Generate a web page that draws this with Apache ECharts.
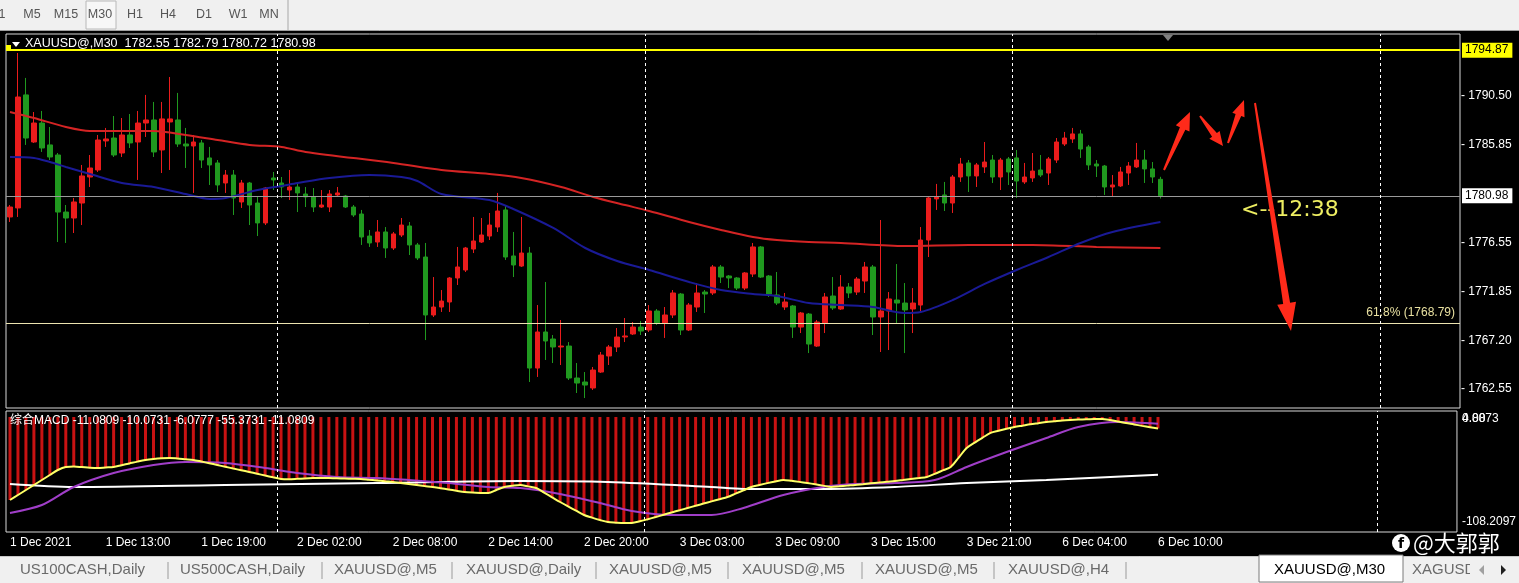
<!DOCTYPE html>
<html><head><meta charset="utf-8">
<script src="https://cdn.jsdelivr.net/npm/echarts@6/dist/echarts.min.js"></script>
<style>html,body{margin:0;padding:0;background:#000;overflow:hidden}#c{width:1519px;height:583px}</style>
</head><body><div id="c"></div>
<script>
// ---- data ----
const tickLabels = ['1 Dec 2021','1 Dec 13:00','1 Dec 19:00','2 Dec 02:00','2 Dec 08:00','2 Dec 14:00','2 Dec 20:00','3 Dec 03:00','3 Dec 09:00','3 Dec 15:00','3 Dec 21:00','6 Dec 04:00','6 Dec 10:00'];
const tickEvery = 12;
const totalSlots = 182;
const opens = [1778.96,1779.82,1790.60,1786.11,1787.92,1785.83,1784.87,1779.43,1778.86,1780.29,
1782.77,1783.44,1786.21,1786.49,1785.06,1786.78,1786.11,1787.92,1788.21,1785.35,
1788.02,1788.21,1785.92,1785.73,1786.02,1784.59,1784.11,1782.20,1782.96,1780.39,
1782.20,1780.29,1778.39,1782.68,1782.20,1781.53,1781.82,1781.15,1780.87,1779.91,
1779.91,1781.06,1780.96,1779.91,1779.24,1777.14,1776.57,1777.53,1776.00,1777.24,
1778.10,1776.29,1775.14,1769.61,1770.37,1770.85,1773.14,1773.90,1775.90,1776.57,
1777.14,1778.00,1779.63,1775.24,1774.28,1775.52,1764.55,1767.99,1767.32,1766.56,
1766.65,1763.60,1763.22,1762.65,1764.17,1765.70,1766.56,1767.51,1767.80,1768.46,
1768.18,1769.99,1768.85,1769.61,1771.61,1768.18,1770.37,1771.80,1771.71,1774.19,
1773.33,1773.14,1772.18,1773.52,1776.10,1773.33,1771.52,1770.37,1770.47,1768.46,
1769.70,1766.65,1768.85,1771.42,1770.18,1772.28,1771.80,1772.85,1774.19,1769.42,
1769.99,1771.04,1770.75,1770.18,1770.56,1776.76,1780.68,1781.06,1780.29,1782.77,
1784.11,1782.87,1783.73,1784.39,1782.77,1784.49,1784.59,1782.30,1782.68,1783.44,
1783.15,1784.39,1785.92,1786.40,1786.88,1785.64,1784.01,1783.82,1781.82,1781.92,
1783.15,1783.73,1784.39,1783.54,1782.55];
const closes = [1779.91,1790.40,1786.49,1787.92,1785.54,1784.68,1779.43,1778.86,1780.39,1782.87,
1783.63,1786.30,1786.40,1784.87,1786.78,1786.02,1787.92,1788.21,1785.16,1788.31,
1788.31,1785.92,1785.73,1786.11,1784.39,1783.92,1782.01,1782.96,1780.77,1782.20,
1780.10,1778.39,1781.72,1782.49,1781.82,1781.82,1781.25,1780.87,1779.91,1780.10,
1781.15,1781.25,1779.91,1779.15,1777.05,1776.48,1777.53,1776.00,1777.34,1778.19,
1776.29,1775.05,1769.61,1770.37,1770.94,1773.14,1774.19,1776.00,1776.67,1777.24,
1778.19,1779.53,1775.14,1774.38,1775.52,1764.55,1767.99,1767.13,1766.56,1766.65,
1763.60,1763.12,1762.93,1764.36,1765.79,1766.56,1767.51,1767.61,1768.46,1768.08,
1769.99,1768.85,1769.61,1771.71,1768.18,1770.56,1771.71,1771.61,1774.19,1773.23,
1773.14,1772.18,1773.62,1776.10,1773.23,1771.61,1770.75,1770.85,1768.46,1769.80,
1766.84,1768.94,1771.33,1770.28,1772.28,1771.71,1773.04,1774.19,1769.42,1769.99,
1771.14,1770.75,1770.09,1770.75,1776.76,1780.77,1780.87,1780.29,1782.77,1784.01,
1782.87,1783.92,1784.20,1782.77,1784.39,1783.25,1782.39,1782.77,1783.34,1782.96,
1784.49,1786.11,1786.49,1786.88,1785.44,1783.92,1783.82,1781.82,1782.01,1783.25,
1783.82,1784.39,1783.54,1782.77,1780.98];
const lows = [1778.48,1778.96,1785.83,1786.02,1785.16,1784.39,1776.57,1776.48,1777.43,1778.19,
1781.82,1783.25,1785.64,1784.68,1784.68,1785.54,1782.49,1786.59,1784.68,1783.15,
1783.44,1785.64,1783.63,1781.25,1783.63,1782.01,1781.34,1781.25,1779.15,1779.82,
1778.19,1777.14,1778.19,1781.53,1780.77,1780.58,1779.43,1779.91,1779.43,1779.82,
1779.43,1780.87,1779.82,1778.96,1776.29,1776.10,1776.10,1775.05,1775.81,1777.05,
1775.33,1774.86,1767.22,1769.42,1769.90,1769.90,1772.47,1773.71,1775.52,1776.48,
1776.76,1777.53,1774.86,1773.23,1774.19,1763.22,1763.70,1765.32,1765.03,1764.84,
1763.41,1762.17,1761.69,1762.46,1764.08,1764.84,1766.08,1767.03,1767.70,1767.70,
1767.99,1768.66,1767.42,1769.32,1767.70,1768.08,1769.90,1769.80,1771.52,1772.66,
1772.18,1771.99,1771.99,1773.23,1773.14,1771.33,1770.56,1770.09,1767.42,1767.89,
1765.98,1766.56,1767.89,1770.09,1770.09,1771.23,1771.52,1771.71,1767.70,1766.08,
1766.27,1768.85,1765.98,1767.89,1769.80,1775.14,1779.63,1779.53,1779.34,1782.30,
1781.34,1781.82,1783.15,1782.20,1781.53,1782.01,1780.77,1782.11,1782.30,1782.77,
1782.01,1784.11,1785.73,1786.02,1784.59,1783.44,1782.77,1781.06,1780.87,1781.82,
1782.01,1783.63,1782.20,1782.20,1780.72];
const highs = [1780.10,1794.60,1792.22,1788.97,1789.07,1787.54,1785.06,1780.10,1780.77,1783.92,
1784.87,1786.78,1787.45,1788.59,1788.40,1788.78,1789.07,1790.60,1789.93,1789.93,
1792.31,1790.79,1787.45,1786.78,1786.30,1785.64,1784.39,1783.44,1783.44,1782.49,
1782.30,1780.87,1781.82,1783.25,1782.77,1783.44,1782.20,1781.82,1781.72,1781.53,
1781.53,1781.82,1781.06,1780.10,1779.63,1777.72,1778.67,1778.00,1777.53,1778.86,
1778.48,1776.48,1776.48,1773.23,1771.99,1773.23,1776.10,1776.10,1778.96,1778.86,
1779.34,1781.25,1780.10,1777.53,1778.96,1776.10,1770.56,1772.76,1767.70,1769.13,
1767.03,1765.03,1764.17,1764.65,1766.08,1766.75,1768.37,1769.32,1768.94,1769.04,
1770.56,1770.18,1770.37,1771.99,1771.71,1770.75,1772.66,1771.99,1774.38,1774.38,
1773.42,1773.23,1773.71,1776.48,1776.19,1773.42,1773.71,1771.71,1770.56,1769.90,
1769.80,1769.13,1771.71,1773.23,1773.42,1772.66,1773.23,1774.67,1774.38,1778.67,
1771.80,1774.47,1772.66,1772.18,1778.00,1780.87,1782.11,1782.30,1782.96,1784.59,
1784.39,1784.11,1786.11,1784.87,1784.59,1784.68,1785.35,1784.11,1785.06,1784.87,
1784.68,1786.49,1787.07,1787.45,1787.26,1785.83,1784.39,1783.92,1782.96,1783.73,
1784.20,1786.02,1785.35,1784.20,1782.79];
// moving averages, read as [bar index, price]
const maSlow = [[0,1788.97],[3,1788.40],[7,1787.54],[10,1787.16],[18,1787.16],[22,1786.78],[26,1786.30],[30,1785.83],[34,1785.64],[37,1785.16],[48,1784.11],[54,1783.44],[60,1783.06],[64,1782.68],[69,1781.82],[73,1780.87],[77,1780.10],[80,1779.53],[85,1778.48],[89,1777.72],[93,1777.05],[96,1776.76],[100,1776.57],[104,1776.48],[112,1776.19],[120,1776.29],[128,1776.29],[136,1776.10],[144,1776.00]];
const maFast = [[0,1784.68],[3,1784.59],[5,1784.20],[7,1783.73],[10,1783.06],[14,1782.20],[18,1781.82],[22,1781.15],[25,1780.68],[27,1780.77],[31,1781.53],[34,1781.92],[36,1782.20],[40,1782.68],[45,1782.96],[49,1782.77],[51,1782.39],[54,1781.15],[60,1780.58],[63,1779.72],[68,1777.91],[72,1776.00],[76,1774.76],[80,1773.90],[85,1772.76],[89,1771.99],[93,1771.61],[96,1771.42],[100,1770.75],[104,1770.56],[108,1770.37],[112,1769.80],[114,1769.90],[118,1771.04],[122,1772.57],[126,1773.90],[130,1775.14],[134,1776.48],[138,1777.53],[144,1778.48]];
// MACD panel
const macd = [-79.6,-74.8,-70.0,-65.2,-60.4,-55.6,-50.8,-47.9,-47.5,-48.0,
-48.6,-48.9,-48.4,-47.9,-46.2,-44.5,-42.8,-41.3,-40.3,-39.6,
-39.3,-39.8,-40.5,-41.2,-42.7,-44.3,-46.0,-47.7,-49.4,-51.0,
-52.7,-54.4,-56.1,-57.8,-59.4,-59.6,-59.3,-58.9,-58.6,-58.5,
-58.6,-58.8,-59.0,-59.2,-59.4,-60.1,-60.8,-61.6,-62.3,-63.2,
-64.2,-65.2,-66.2,-67.1,-68.3,-69.5,-70.7,-71.9,-72.5,-72.8,
-72.9,-70.0,-67.1,-66.0,-65.2,-66.5,-68.1,-72.5,-77.0,-81.5,
-85.7,-89.8,-94.0,-96.5,-98.8,-100.7,-101.3,-101.7,-101.6,-100.0,
-98.0,-95.9,-93.7,-91.5,-89.4,-87.2,-85.1,-83.0,-80.9,-78.8,
-76.7,-73.5,-70.3,-67.1,-65.2,-63.4,-61.8,-60.4,-61.2,-62.2,
-63.3,-64.5,-65.8,-67.1,-66.5,-65.8,-65.2,-64.4,-63.6,-62.9,
-62.1,-61.4,-60.4,-59.4,-58.5,-57.5,-54.5,-51.2,-47.9,-39.0,
-29.7,-24.5,-19.8,-15.3,-13.2,-11.3,-9.6,-8.3,-7.0,-5.9,
-4.8,-4.1,-3.4,-2.9,-2.5,-2.2,-2.0,-1.9,-2.9,-4.3,
-5.8,-7.1,-8.5,-9.8,-11.08];
const signalLine = [[0,-92.0],[4,-84.4],[8,-67.1],[13,-53.7],[18,-46.0],[22,-43.1],[27,-44.1],[32,-48.9],[36,-53.7],[41,-57.5],[46,-58.5],[50,-60.4],[55,-63.3],[60,-67.1],[64,-68.1],[69,-73.8],[74,-82.5],[78,-90.1],[83,-94.0],[88,-94.0],[92,-87.2],[97,-74.8],[102,-67.1],[106,-64.2],[111,-63.3],[116,-60.4],[120,-47.9],[125,-33.6],[130,-20.1],[134,-9.6],[139,-4.8],[144,-6.5]];
const longLine = [[0,-64.2],[8,-67.1],[27,-65.2],[46,-63.3],[64,-61.4],[75,-62.3],[88,-67.1],[92,-69.0],[102,-69.0],[111,-67.1],[120,-63.3],[130,-60.4],[144,-55.37]];
const priceTicks = [1762.55, 1767.20, 1771.85, 1776.55, 1785.85, 1790.50];
const macdTicks = [4.8873, -108.2097];
const macdZero = [0];
const levelHigh = 1794.87, lastPrice = 1780.98, fibLevel = 1768.79;
const daySeparators = [33.5, 79.5, 125.5, 171.5];
const tabs = ['US100CASH,Daily','US500CASH,Daily','XAUUSD@,M5','XAUUSD@,Daily','XAUUSD@,M5','XAUUSD@,M5','XAUUSD@,M5','XAUUSD@,H4','XAUUSD@,M30','XAGUSD'];
const periods = ['1','M5','M15','M30','H1','H4','D1','W1','MN'];

// ---- chart ----
const FONT = 'Liberation Sans, Noto Sans CJK SC, sans-serif';
const categories = Array.from({length: totalSlots}, (_, i) => String(i));
const candleData = opens.map((o, i) => [o, closes[i], lows[i], highs[i]]);
const showTick = (i) => i % tickEvery === 0 && i / tickEvery < tickLabels.length;

function arrow(tail, tip, w0, w1, headLen, headW) {
  const dx = tip[0]-tail[0], dy = tip[1]-tail[1], L = Math.hypot(dx, dy);
  const ux = dx/L, uy = dy/L, nx = -uy, ny = ux;
  const bx = tip[0]-ux*headLen, by = tip[1]-uy*headLen;
  const pts = [
    [tail[0]+nx*w0/2, tail[1]+ny*w0/2],
    [bx+nx*w1/2, by+ny*w1/2],
    [bx+nx*headW/2, by+ny*headW/2],
    tip,
    [bx-nx*headW/2, by-ny*headW/2],
    [bx-nx*w1/2, by-ny*w1/2],
    [tail[0]-nx*w0/2, tail[1]-ny*w0/2]
  ];
  return {type:'polygon', shape:{points:pts}, style:{fill:'#ff2a1a'}, z:100};
}

const tabX = [20,180,334,466,609,742,875,1008,1140,1274,1412];
const sepX = [168,322,452,596,728,862,994,1126];
const periodX = [2,32,66,100,135,168,204,238,269];

const g = [];
// top toolbar
g.push({type:'rect', shape:{x:0,y:0,width:1519,height:31}, style:{fill:'#f0f0f0'}, z:50});
g.push({type:'rect', shape:{x:86,y:1,width:30,height:28}, style:{fill:'#f7f7f7', stroke:'#b8b8b8', lineWidth:1}, z:51});
g.push({type:'line', shape:{x1:288,y1:0,x2:288,y2:30}, style:{stroke:'#a8a8a8', lineWidth:1}, z:51});
g.push({type:'line', shape:{x1:0,y1:30.5,x2:1519,y2:30.5}, style:{stroke:'#a0a0a0', lineWidth:1}, z:51});
periods.forEach((p, i) => g.push({type:'text', x:periodX[i], y:15, style:{text:p, fill:'#555', font:'12.5px '+FONT, textAlign:'center', textVerticalAlign:'middle'}, z:52}));
// bottom tab bar
g.push({type:'rect', shape:{x:0,y:556,width:1519,height:27}, style:{fill:'#f0f0f0'}, z:50});
g.push({type:'line', shape:{x1:0,y1:556.5,x2:1519,y2:556.5}, style:{stroke:'#c8c8c8', lineWidth:1}, z:51});
g.push({type:'rect', shape:{x:1259,y:555,width:144,height:27}, style:{fill:'#ffffff', stroke:'#7a7a7a', lineWidth:1}, z:51});
sepX.forEach(x => g.push({type:'line', shape:{x1:x,y1:562,x2:x,y2:579}, style:{stroke:'#9a9a9a', lineWidth:1}, z:52}));
tabs.forEach((t, i) => {
  const xi = i < 8 ? tabX[i] : (i === 8 ? tabX[9] : tabX[10]);
  g.push({type:'text', x:xi, y:570, style:{text:t, fill: i === 8 ? '#000' : '#6a6a6a', font:'15px '+FONT, textVerticalAlign:'middle'}, z:53});
});
g.push({type:'rect', shape:{x:1470,y:558,width:49,height:24}, style:{fill:'#f0f0f0'}, z:54});
g.push({type:'polygon', shape:{points:[[1484,565],[1484,575],[1479,570]]}, style:{fill:'#a0a0a0'}, z:55});
g.push({type:'polygon', shape:{points:[[1501,565],[1501,575],[1506,570]]}, style:{fill:'#202020'}, z:55});
// chart titles
g.push({type:'polygon', shape:{points:[[12,42],[20,42],[16,47]]}, style:{fill:'#fff'}, z:60});
g.push({type:'text', x:25, y:44, style:{text:'XAUUSD@,M30  1782.55 1782.79 1780.72 1780.98', fill:'#fff', font:'12.5px '+FONT, textVerticalAlign:'middle'}, z:60});
g.push({type:'rect', shape:{x:6,y:45,width:5,height:5}, style:{fill:'#ffff00'}, z:60});
g.push({type:'polygon', shape:{points:[[1163,35],[1173,35],[1168,41]]}, style:{fill:'#808080'}, z:60});
g.push({type:'text', x:10, y:421, style:{text:'综合MACD -11.0809 -10.0731 -6.0777 -55.3731 -11.0809', fill:'#fff', font:'12px '+FONT, textVerticalAlign:'middle'}, z:60});
g.push({type:'text', x:1241, y:210, style:{text:'<--12:38', fill:'#eeee62', font:'22px DejaVu Sans', textVerticalAlign:'middle'}, z:60});
// watermark
g.push({type:'circle', shape:{cx:1401,cy:543,r:9}, style:{fill:'#fff'}, z:60});
g.push({type:'text', x:1401, y:544, style:{text:'f', fill:'#000', font:'bold 14px DejaVu Sans', textAlign:'center', textVerticalAlign:'middle'}, z:61});
g.push({type:'text', x:1413, y:543, style:{text:'@大郭郭', fill:'#fff', font:'22px Noto Sans CJK SC', textVerticalAlign:'middle'}, z:60});
// hand-drawn arrows
g.push(arrow([1164,170],[1190,112],2,6,18,15));
g.push(arrow([1200,116],[1223,146],2,6,14,13));
g.push(arrow([1228,143],[1244,100],2,6,16,13));
g.push(arrow([1255,103],[1291,331],2,7,28,19));

const sepLine = (yIdx) => ({
  type:'line', xAxisIndex: yIdx === 0 ? 2 : 3, yAxisIndex: yIdx, data: [], silent: true,
  markLine: {symbol:'none', silent:true, label:{show:false},
    lineStyle:{color:'#ffffff', type:[3,3], width:1},
    data: daySeparators.map(v => ({xAxis: v}))}
});

const macdMin = -110.26, macdMax = 5.75;
const chart = echarts.init(document.getElementById('c'), null, {renderer:'canvas'});
chart.setOption({
  backgroundColor:'#000',
  animation:false,
  textStyle:{fontFamily:FONT},
  grid:[
    {left:6, right:59, top:34, height:374, show:true, borderColor:'#d8d8d8', borderWidth:1, backgroundColor:'transparent'},
    {left:6, right:59, top:411, height:121, show:true, borderColor:'#d8d8d8', borderWidth:1, backgroundColor:'transparent'}
  ],
  xAxis:[
    {type:'category', gridIndex:0, data:categories, boundaryGap:true, axisLine:{show:false}, axisTick:{show:false}, axisLabel:{show:false}, splitLine:{show:false}},
    {type:'category', gridIndex:1, data:categories, boundaryGap:true, axisLine:{show:false},
      axisTick:{show:true, interval:showTick, alignWithLabel:true, length:4, lineStyle:{color:'#fff'}},
      axisLabel:{interval:showTick, formatter:(v, i) => tickLabels[i / tickEvery] || '', align:'left', color:'#fff', fontSize:12, margin:5, fontFamily:FONT},
      splitLine:{show:false}},
    {type:'value', gridIndex:0, min:-0.5, max:totalSlots-0.5, show:false},
    {type:'value', gridIndex:1, min:-0.5, max:totalSlots-0.5, show:false}
  ],
  yAxis:[
    {type:'value', gridIndex:0, position:'right', min:1760.74, max:1796.41, scale:true,
      axisLine:{show:false}, splitLine:{show:false}, axisTick:{show:false},
      axisLabel:{customValues:priceTicks, formatter:v => '- ' + v.toFixed(2), color:'#fff', fontSize:12, margin:1, fontFamily:FONT, hideOverlap:false}},
    {type:'value', gridIndex:1, position:'right', min:macdMin, max:macdMax,
      axisLine:{show:false}, splitLine:{show:false}, axisTick:{show:false},
      axisLabel:{customValues:macdTicks, margin:5, fontFamily:FONT, hideOverlap:false,
        formatter:v => v > 1 ? '{t|' + v.toFixed(4) + '}' : '{b|' + v.toFixed(4) + '}',
        rich:{t:{color:'#fff', fontSize:12, padding:[14,0,0,0]}, b:{color:'#fff', fontSize:12, padding:[0,0,16,0]}}}},
    {type:'value', gridIndex:1, position:'right', min:macdMin, max:macdMax,
      axisLine:{show:false}, splitLine:{show:false}, axisTick:{show:false},
      axisLabel:{customValues:macdZero, margin:5, fontFamily:FONT, hideOverlap:false,
        formatter:v => '{z|' + v.toFixed(2) + '}',
        rich:{z:{color:'#fff', fontSize:12, padding:[4,0,0,0]}}}}
  ],
  series:[
    {type:'candlestick', xAxisIndex:0, yAxisIndex:0, data:candleData, barWidth:5, silent:true,
      itemStyle:{color:'#ea1c1c', color0:'#20991f', borderColor:'#ea1c1c', borderColor0:'#20991f', borderWidth:1},
      markLine:{symbol:'none', silent:true, precision:2,
        data:[
          {yAxis:levelHigh, lineStyle:{color:'#ffff00', width:2, type:'solid'},
            label:{show:true, position:'end', formatter:levelHigh.toFixed(2), color:'#000', backgroundColor:'#ffff00', padding:[2,4,1,3], distance:2, fontSize:12, fontFamily:FONT}},
          {yAxis:lastPrice, lineStyle:{color:'#9a9a9a', width:1, type:'solid'},
            label:{show:true, position:'end', formatter:lastPrice.toFixed(2), color:'#000', backgroundColor:'#ffffff', padding:[2,4,1,3], distance:2, fontSize:12, fontFamily:FONT}},
          {yAxis:fibLevel, lineStyle:{color:'#ece4b0', width:1, type:'solid'},
            label:{show:true, position:'insideEndTop', formatter:'61.8% (' + fibLevel.toFixed(2) + ')', color:'#e8e0a0', distance:5, fontSize:12, fontFamily:FONT}}
        ]}},
    {type:'line', xAxisIndex:2, yAxisIndex:0, data:maSlow, smooth:0.3, showSymbol:false, silent:true, lineStyle:{color:'#d42424', width:2}, z:3},
    {type:'line', xAxisIndex:2, yAxisIndex:0, data:maFast, smooth:0.3, showSymbol:false, silent:true, lineStyle:{color:'#1a1a96', width:2}, z:3},
    sepLine(0),
    {type:'bar', xAxisIndex:1, yAxisIndex:1, data:macd, barWidth:3, silent:true, itemStyle:{color:'#c81212'}},
    {type:'line', xAxisIndex:3, yAxisIndex:1, data:longLine, smooth:0.3, showSymbol:false, silent:true, lineStyle:{color:'#ffffff', width:2}, z:3},
    {type:'line', xAxisIndex:3, yAxisIndex:1, data:signalLine, smooth:0.3, showSymbol:false, silent:true, lineStyle:{color:'#a03ec8', width:2}, z:4},
    {type:'line', xAxisIndex:1, yAxisIndex:1, data:macd, smooth:0.3, showSymbol:false, silent:true, lineStyle:{color:'#ffff66', width:2}, z:5},
    sepLine(1)
  ],
  graphic:{elements:g}
});
</script>
</body></html>
